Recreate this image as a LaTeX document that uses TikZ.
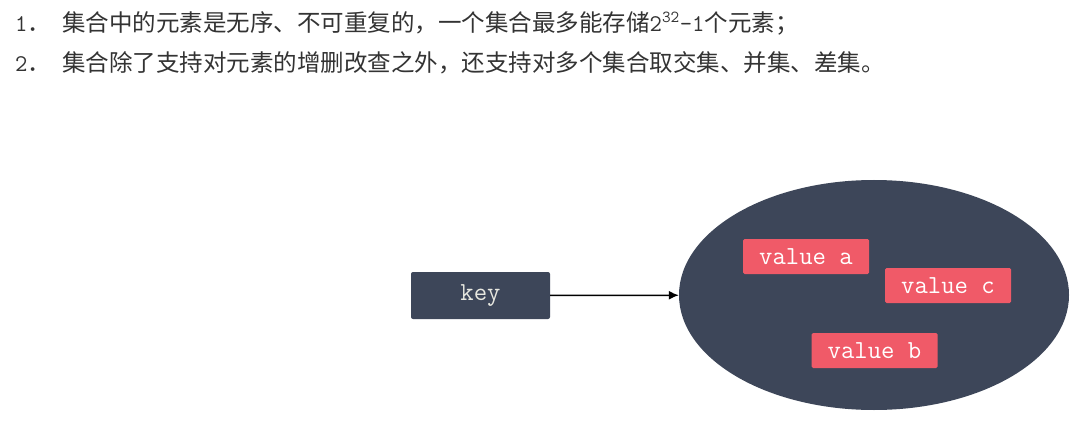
\documentclass[tikz,border=0pt]{standalone}
\usepackage{fontspec}
\newfontfamily\cjk{Noto Sans CJK SC}
\usetikzlibrary{shapes.geometric,arrows.meta}
\definecolor{darkbox}{HTML}{3D4659}
\definecolor{vred}{HTML}{F05A68}
\definecolor{txt}{HTML}{333333}
\definecolor{keytxt}{HTML}{E8E8E0}
\begin{document}
\begin{tikzpicture}[x=1pt,y=-1pt]
\useasboundingbox[fill=white] (0,0) rectangle (1081,422);
\tikzset{
 numlbl/.style={anchor=base west, inner sep=0pt, font=\ttfamily\fontsize{24}{28}\selectfont, text=txt},
 textline/.style={anchor=base west, inner sep=0pt, font=\cjk\fontsize{23.5}{28}\selectfont, text=txt},
 keybox/.style={fill=darkbox, rounded corners=2pt, minimum width=139pt, minimum height=47pt, inner sep=0pt, font=\ttfamily\fontsize{26}{30}\selectfont, text=keytxt},
 valbox/.style={fill=vred, rounded corners=1.5pt, minimum width=126pt, minimum height=35pt, inner sep=0pt, font=\ttfamily\fontsize{26}{30}\selectfont, text=white},
 setshape/.style={ellipse, fill=darkbox, minimum width=390pt, minimum height=230pt, inner sep=0pt},
 conn/.style={-{Latex[length=10pt,width=9pt]}, line width=1.5pt, black},
}
\node[numlbl] (n1) at (15,32) {1{\cjk\fontsize{23.5}{28}\selectfont ．}};
\node[textline] (l1) at (62,32) {集合中的元素是无序、不可重复的，一个集合最多能存储{\ttfamily\fontsize{24}{28}\selectfont 2\textsuperscript{32}-1}个元素；};
\node[numlbl] (n2) at (15,72) {2{\cjk\fontsize{23.5}{28}\selectfont ．}};
\node[textline] (l2) at (62,72) {集合除了支持对元素的增删改查之外，还支持对多个集合取交集、并集、差集。};
\node[keybox] (key) at (480.5,295.5) {key};
\node[setshape] (set) at (874,295) {};
\node[valbox] (va) at (806,256.5) {value a};
\node[valbox] (vc) at (948,285.5) {value c};
\node[valbox] (vb) at (874.5,350.5) {value b};
\draw[conn] (key) -- (set);
\end{tikzpicture}
\end{document}
